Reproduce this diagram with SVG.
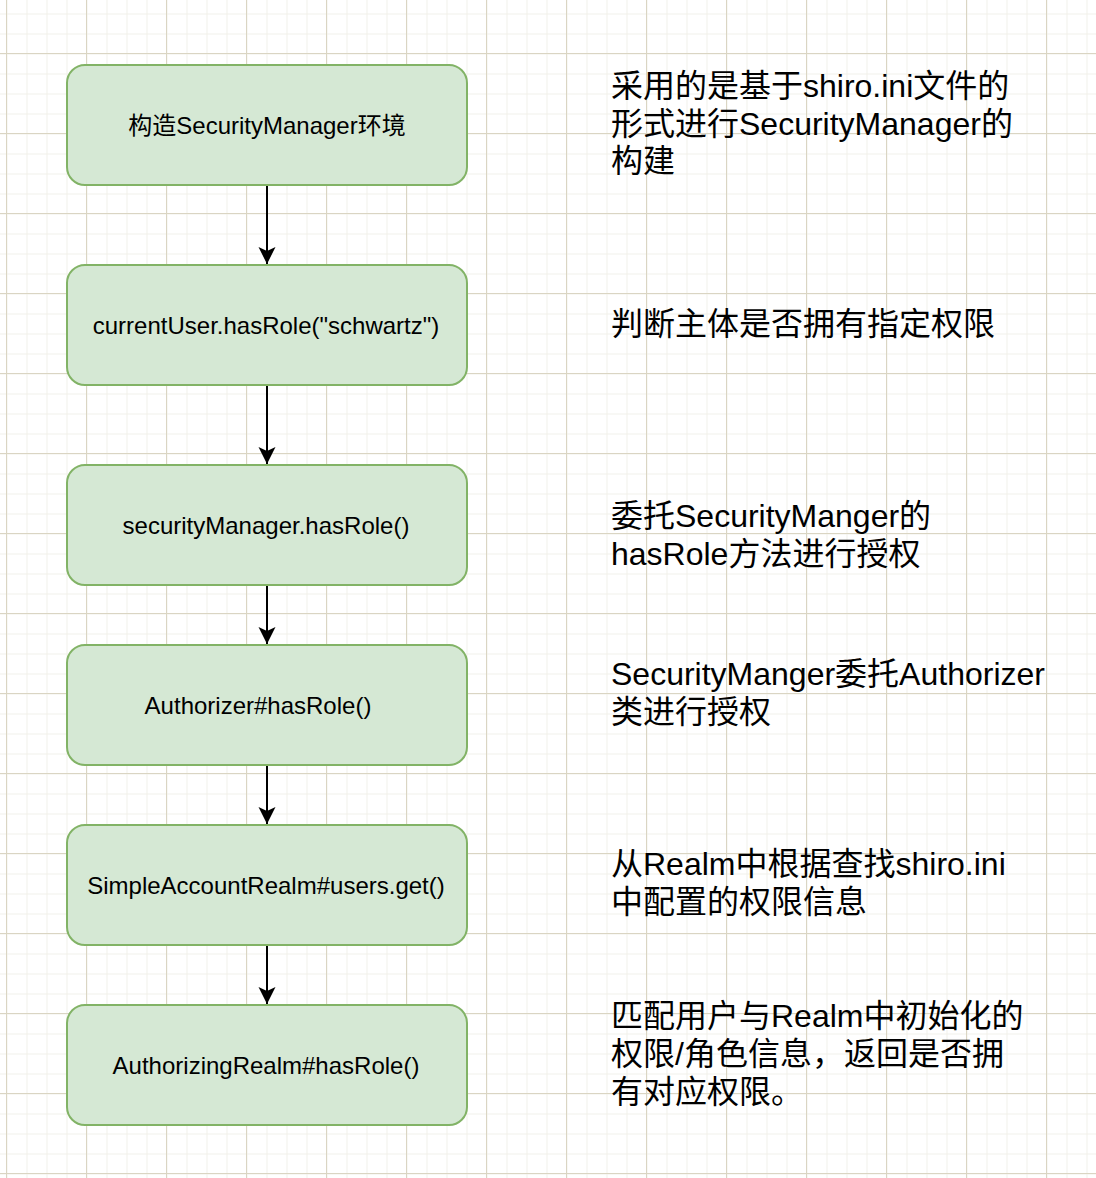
<svg xmlns="http://www.w3.org/2000/svg" width="1096" height="1178" viewBox="0 0 1096 1178">
<defs>
<pattern id="minor" patternUnits="userSpaceOnUse" x="6.5" y="13.5" width="20" height="20">
<path d="M0.5 0V20M0 0.5H20" fill="none" stroke="#f1f0ea" stroke-width="1"/>
</pattern>
<pattern id="major" patternUnits="userSpaceOnUse" x="6.5" y="13.5" width="80" height="80">
<path d="M0.5 0V80M0 40.5H80" fill="none" stroke="#dad5c3" stroke-width="1"/>
</pattern>
<marker id="arr" markerUnits="userSpaceOnUse" markerWidth="20" markerHeight="20" viewBox="0 0 20 20" refX="18" refY="10" orient="auto">
<path d="M1 1.5L18 10L1 18.5L5 10Z" fill="#000"/>
</marker>
<style>
.box{fill:#d5e8d4;stroke:#82b366;stroke-width:2}
.lbl{font-family:"Liberation Sans","Noto Sans CJK SC",sans-serif;font-size:24px;fill:#000;text-anchor:middle;dominant-baseline:central}
.note{font-family:"Liberation Sans","Noto Sans CJK SC",sans-serif;font-size:32px;fill:#000}
.edge{stroke:#000;stroke-width:2;fill:none;marker-end:url(#arr)}
</style>
</defs>
<rect width="1096" height="1178" fill="#fff"/>
<rect width="1096" height="1178" fill="url(#minor)"/>
<g fill="none" stroke="#dad5c3" stroke-width="1">
<path d="M6.5 0V1178M86.5 0V1178M166.5 0V1178M246.5 0V1178M326.5 0V1178M406.5 0V1178M486.5 0V1178M566.5 0V1178M646.5 0V1178M726.5 0V1178M806.5 0V1178M886.5 0V1178M966.5 0V1178M1046.5 0V1178"/>
<path d="M0 53.5H1096M0 133.5H1096M0 213.5H1096M0 293.5H1096M0 373.5H1096M0 453.5H1096M0 533.5H1096M0 613.5H1096M0 693.5H1096M0 773.5H1096M0 853.5H1096M0 933.5H1096M0 1013.5H1096M0 1093.5H1096M0 1173.5H1096"/>
</g>
<g id="connectors">
<path class="edge" d="M267 185V264"/>
<path class="edge" d="M267 385V464"/>
<path class="edge" d="M267 585V644"/>
<path class="edge" d="M267 765V824"/>
<path class="edge" d="M267 945V1004"/>
</g>
<g id="n1"><rect class="box" x="67" y="65" width="400" height="120" rx="18"/><text class="lbl" x="267" y="125">构造SecurityManager环境</text></g>
<g id="n2"><rect class="box" x="67" y="265" width="400" height="120" rx="18"/><text class="lbl" x="266" y="325">currentUser.hasRole("schwartz")</text></g>
<g id="n3"><rect class="box" x="67" y="465" width="400" height="120" rx="18"/><text class="lbl" x="266" y="525">securityManager.hasRole()</text></g>
<g id="n4"><rect class="box" x="67" y="645" width="400" height="120" rx="18"/><text class="lbl" x="258" y="705">Authorizer#hasRole()</text></g>
<g id="n5"><rect class="box" x="67" y="825" width="400" height="120" rx="18"/><text class="lbl" x="266" y="885">SimpleAccountRealm#users.get()</text></g>
<g id="n6"><rect class="box" x="67" y="1005" width="400" height="120" rx="18"/><text class="lbl" x="266" y="1065">AuthorizingRealm#hasRole()</text></g>
<g id="notes">
<text class="note" x="611" y="97">采用的是基于shiro.ini文件的</text>
<text class="note" x="611" y="135">形式进行SecurityManager的</text>
<text class="note" x="611" y="172">构建</text>
<text class="note" x="611" y="335">判断主体是否拥有指定权限</text>
<text class="note" x="611" y="527">委托SecurityManger的</text>
<text class="note" x="611" y="565">hasRole方法进行授权</text>
<text class="note" x="611" y="685">SecurityManger委托Authorizer</text>
<text class="note" x="611" y="723">类进行授权</text>
<text class="note" x="611" y="875">从Realm中根据查找shiro.ini</text>
<text class="note" x="611" y="913">中配置的权限信息</text>
<text class="note" x="611" y="1027">匹配用户与Realm中初始化的</text>
<text class="note" x="611" y="1065">权限/角色信息，返回是否拥</text>
<text class="note" x="611" y="1103">有对应权限。</text>
</g>
</svg>
